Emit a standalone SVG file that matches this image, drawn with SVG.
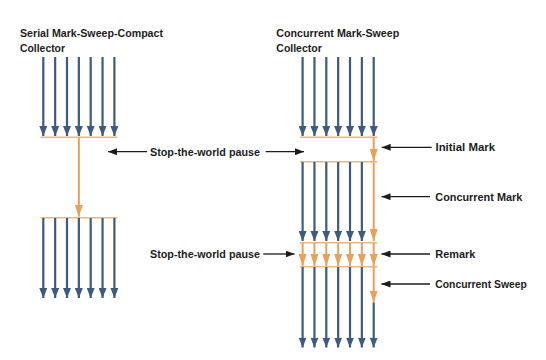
<svg xmlns="http://www.w3.org/2000/svg" width="546" height="360" viewBox="0 0 546 360">
  <style>
    .t { font-family: "Liberation Sans", Arial, sans-serif; font-weight: bold; font-size: 11.5px; fill: #1c1c1c; }
    .blue { stroke: #3d5a7f; stroke-width: 2.2; fill: none; marker-end: url(#hb); }
    .org { stroke: #e8a15a; stroke-width: 2; fill: none; marker-end: url(#ho); }
    .bar { stroke: #f0b67f; stroke-width: 1.6; fill: none; }
    .lbl { stroke: #1c1c1c; stroke-width: 1.3; fill: none; marker-end: url(#hk); }
  </style>
  <defs>
    <marker id="hb" markerUnits="userSpaceOnUse" viewBox="0 0 10 8" refX="10" refY="4" markerWidth="10" markerHeight="8" orient="auto">
      <path d="M0,0 L10,4 L0,8 z" fill="#3d5a7f"/>
    </marker>
    <marker id="ho" markerUnits="userSpaceOnUse" viewBox="0 0 12 8" refX="12" refY="4" markerWidth="12" markerHeight="8" orient="auto">
      <path d="M0,0 L12,4 L0,8 z" fill="#e8a15a"/>
    </marker>
    <marker id="hk" markerUnits="userSpaceOnUse" viewBox="0 0 9 7" refX="9" refY="3.5" markerWidth="9" markerHeight="7" orient="auto">
      <path d="M0,0 L9,3.5 L0,7 z" fill="#1c1c1c"/>
    </marker>
  </defs>
  <rect width="546" height="360" fill="#ffffff"/>

  <g id="title-serial">
    <text class="t" x="20" y="36.5" textLength="143" lengthAdjust="spacingAndGlyphs">Serial Mark-Sweep-Compact</text>
    <text class="t" x="20" y="51.5" textLength="45" lengthAdjust="spacingAndGlyphs">Collector</text>
  </g>
  <g id="title-concurrent">
    <text class="t" x="276.3" y="36.5" textLength="123" lengthAdjust="spacingAndGlyphs">Concurrent Mark-Sweep</text>
    <text class="t" x="276.3" y="51.5" textLength="45.5" lengthAdjust="spacingAndGlyphs">Collector</text>
  </g>

  <g id="serial-threads">
    <g id="serial-before">
      <line class="blue" x1="43.3" y1="57" x2="43.3" y2="136"/>
      <line class="blue" x1="55.15" y1="57" x2="55.15" y2="136"/>
      <line class="blue" x1="67" y1="57" x2="67" y2="136"/>
      <line class="blue" x1="78.85" y1="57" x2="78.85" y2="136"/>
      <line class="blue" x1="90.7" y1="57" x2="90.7" y2="136"/>
      <line class="blue" x1="102.55" y1="57" x2="102.55" y2="136"/>
      <line class="blue" x1="114.4" y1="57" x2="114.4" y2="136"/>
    </g>
    <g id="serial-pause">
      <line class="bar" x1="40.5" y1="137.3" x2="117.5" y2="137.3"/>
      <line class="org" x1="78.85" y1="137.3" x2="78.85" y2="216.7"/>
      <line class="bar" x1="40.5" y1="217.7" x2="117.5" y2="217.7"/>
    </g>
    <g id="serial-after">
      <line class="blue" x1="43.3" y1="218" x2="43.3" y2="298"/>
      <line class="blue" x1="55.15" y1="218" x2="55.15" y2="298"/>
      <line class="blue" x1="67" y1="218" x2="67" y2="298"/>
      <line class="blue" x1="78.85" y1="218" x2="78.85" y2="298"/>
      <line class="blue" x1="90.7" y1="218" x2="90.7" y2="298"/>
      <line class="blue" x1="102.55" y1="218" x2="102.55" y2="298"/>
      <line class="blue" x1="114.4" y1="218" x2="114.4" y2="298"/>
    </g>
  </g>

  <g id="concurrent-threads">
    <g id="cms-before">
      <line class="blue" x1="302.6" y1="57" x2="302.6" y2="136"/>
      <line class="blue" x1="314.45" y1="57" x2="314.45" y2="136"/>
      <line class="blue" x1="326.3" y1="57" x2="326.3" y2="136"/>
      <line class="blue" x1="338.15" y1="57" x2="338.15" y2="136"/>
      <line class="blue" x1="350" y1="57" x2="350" y2="136"/>
      <line class="blue" x1="361.85" y1="57" x2="361.85" y2="136"/>
      <line class="blue" x1="373.7" y1="57" x2="373.7" y2="136"/>
    </g>
    <g id="cms-initial-mark">
      <line class="bar" x1="300" y1="137.3" x2="377.3" y2="137.3"/>
      <line class="org" x1="373.7" y1="137.3" x2="373.7" y2="161"/>
      <line class="bar" x1="300" y1="161.7" x2="377.3" y2="161.7"/>
    </g>
    <g id="cms-concurrent-mark">
      <line class="blue" x1="302.6" y1="162" x2="302.6" y2="241"/>
      <line class="blue" x1="314.45" y1="162" x2="314.45" y2="241"/>
      <line class="blue" x1="326.3" y1="162" x2="326.3" y2="241"/>
      <line class="blue" x1="338.15" y1="162" x2="338.15" y2="241"/>
      <line class="blue" x1="350" y1="162" x2="350" y2="241"/>
      <line class="blue" x1="361.85" y1="162" x2="361.85" y2="241"/>
      <line class="org" x1="373.7" y1="162" x2="373.7" y2="241"/>
    </g>
    <g id="cms-remark">
      <line class="bar" x1="300" y1="242.7" x2="377.3" y2="242.7"/>
      <line class="org" x1="302.6" y1="243" x2="302.6" y2="266"/>
      <line class="org" x1="314.45" y1="243" x2="314.45" y2="266"/>
      <line class="org" x1="326.3" y1="243" x2="326.3" y2="266"/>
      <line class="org" x1="338.15" y1="243" x2="338.15" y2="266"/>
      <line class="org" x1="350" y1="243" x2="350" y2="266"/>
      <line class="org" x1="361.85" y1="243" x2="361.85" y2="266"/>
      <line class="org" x1="373.7" y1="243" x2="373.7" y2="266"/>
      <line class="bar" x1="300" y1="266.7" x2="377.3" y2="266.7"/>
    </g>
    <g id="cms-concurrent-sweep">
      <line class="blue" x1="302.6" y1="267" x2="302.6" y2="347.5"/>
      <line class="blue" x1="314.45" y1="267" x2="314.45" y2="347.5"/>
      <line class="blue" x1="326.3" y1="267" x2="326.3" y2="347.5"/>
      <line class="blue" x1="338.15" y1="267" x2="338.15" y2="347.5"/>
      <line class="blue" x1="350" y1="267" x2="350" y2="347.5"/>
      <line class="blue" x1="361.85" y1="267" x2="361.85" y2="347.5"/>
      <line class="org" x1="373.7" y1="267" x2="373.7" y2="302.5"/>
      <line class="blue" x1="373.7" y1="302.5" x2="373.7" y2="347.5"/>
    </g>
  </g>

  <g id="label-stw-1">
    <text class="t" x="150" y="155.5" textLength="110" lengthAdjust="spacingAndGlyphs">Stop-the-world pause</text>
  </g>
  <g id="label-stw-2">
    <text class="t" x="150" y="257.5" textLength="110" lengthAdjust="spacingAndGlyphs">Stop-the-world pause</text>
  </g>
  <g id="label-initial-mark">
    <text class="t" x="435.5" y="151" textLength="59.5" lengthAdjust="spacingAndGlyphs">Initial Mark</text>
  </g>
  <g id="label-concurrent-mark">
    <text class="t" x="435.3" y="200.5" textLength="87" lengthAdjust="spacingAndGlyphs">Concurrent Mark</text>
  </g>
  <g id="label-remark">
    <text class="t" x="435.3" y="257.5" textLength="40" lengthAdjust="spacingAndGlyphs">Remark</text>
  </g>
  <g id="label-concurrent-sweep">
    <text class="t" x="435.3" y="288" textLength="91.5" lengthAdjust="spacingAndGlyphs">Concurrent Sweep</text>
  </g>

  <g id="connectors">
    <line class="lbl" x1="147" y1="151.7" x2="108" y2="151.7"/>
    <line class="lbl" x1="265.7" y1="151.7" x2="304" y2="151.7"/>
    <line class="lbl" x1="263.3" y1="254" x2="294.5" y2="254"/>
    <line class="lbl" x1="431.7" y1="147.3" x2="381.7" y2="147.3"/>
    <line class="lbl" x1="430" y1="196.7" x2="381.5" y2="196.7"/>
    <line class="lbl" x1="430" y1="254" x2="381.5" y2="254"/>
    <line class="lbl" x1="430" y1="284" x2="381.5" y2="284"/>
  </g>
</svg>
